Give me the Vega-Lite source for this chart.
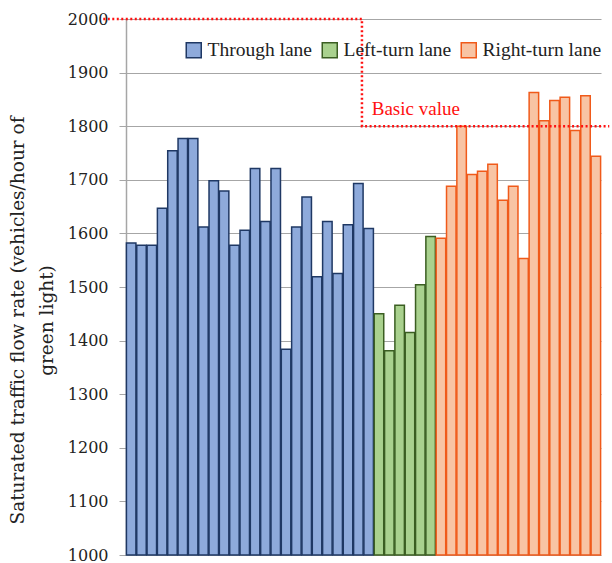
{
  "$schema": "https://vega.github.io/schema/vega-lite/v6.json",
  "width": 475,
  "height": 536,
  "autosize": {"type": "none"},
  "padding": {"left": 126, "top": 19, "right": 11, "bottom": 8},
  "background": "white",
  "config": {
    "view": {"stroke": null},
    "font": "Liberation Serif",
    "legend": {
      "orient": "none",
      "legendX": 58,
      "legendY": 21,
      "direction": "horizontal",
      "labelFont": "Liberation Serif",
      "labelFontSize": 19.5,
      "labelColor": "#222222",
      "symbolType": "square",
      "symbolSize": 225,
      "symbolStrokeWidth": 1.5,
      "labelOffset": 4,
      "columnPadding": 6,
      "labelLimit": 300
    }
  },
  "datasets": {
    "bars": [
      {"i": 1, "lane": "Through lane", "v": 1582},
      {"i": 2, "lane": "Through lane", "v": 1578},
      {"i": 3, "lane": "Through lane", "v": 1578},
      {"i": 4, "lane": "Through lane", "v": 1647},
      {"i": 5, "lane": "Through lane", "v": 1754},
      {"i": 6, "lane": "Through lane", "v": 1777},
      {"i": 7, "lane": "Through lane", "v": 1777},
      {"i": 8, "lane": "Through lane", "v": 1612},
      {"i": 9, "lane": "Through lane", "v": 1698},
      {"i": 10, "lane": "Through lane", "v": 1679},
      {"i": 11, "lane": "Through lane", "v": 1578},
      {"i": 12, "lane": "Through lane", "v": 1606},
      {"i": 13, "lane": "Through lane", "v": 1721},
      {"i": 14, "lane": "Through lane", "v": 1622},
      {"i": 15, "lane": "Through lane", "v": 1721},
      {"i": 16, "lane": "Through lane", "v": 1384},
      {"i": 17, "lane": "Through lane", "v": 1612},
      {"i": 18, "lane": "Through lane", "v": 1668},
      {"i": 19, "lane": "Through lane", "v": 1519},
      {"i": 20, "lane": "Through lane", "v": 1622},
      {"i": 21, "lane": "Through lane", "v": 1525},
      {"i": 22, "lane": "Through lane", "v": 1616},
      {"i": 23, "lane": "Through lane", "v": 1693},
      {"i": 24, "lane": "Through lane", "v": 1609},
      {"i": 25, "lane": "Left-turn lane", "v": 1450},
      {"i": 26, "lane": "Left-turn lane", "v": 1381},
      {"i": 27, "lane": "Left-turn lane", "v": 1466},
      {"i": 28, "lane": "Left-turn lane", "v": 1415},
      {"i": 29, "lane": "Left-turn lane", "v": 1504},
      {"i": 30, "lane": "Left-turn lane", "v": 1594},
      {"i": 31, "lane": "Right-turn lane", "v": 1591},
      {"i": 32, "lane": "Right-turn lane", "v": 1688},
      {"i": 33, "lane": "Right-turn lane", "v": 1800},
      {"i": 34, "lane": "Right-turn lane", "v": 1710},
      {"i": 35, "lane": "Right-turn lane", "v": 1716},
      {"i": 36, "lane": "Right-turn lane", "v": 1729},
      {"i": 37, "lane": "Right-turn lane", "v": 1662},
      {"i": 38, "lane": "Right-turn lane", "v": 1688},
      {"i": 39, "lane": "Right-turn lane", "v": 1553},
      {"i": 40, "lane": "Right-turn lane", "v": 1863},
      {"i": 41, "lane": "Right-turn lane", "v": 1810},
      {"i": 42, "lane": "Right-turn lane", "v": 1848},
      {"i": 43, "lane": "Right-turn lane", "v": 1854},
      {"i": 44, "lane": "Right-turn lane", "v": 1792},
      {"i": 45, "lane": "Right-turn lane", "v": 1857},
      {"i": 46, "lane": "Right-turn lane", "v": 1744}
    ],
    "basic": [
      {"o": 1, "px": -2.2, "py": 2000},
      {"o": 2, "px": 22.85, "py": 2000},
      {"o": 3, "px": 22.85, "py": 1800},
      {"o": 4, "px": 46.8, "py": 1800}
    ],
    "label": [
      {"px": 23.8, "py": 1833, "t": "Basic value"}
    ]
  },
  "encoding": {
    "y": {
      "field": "v",
      "type": "quantitative",
      "scale": {"domain": [1000, 2000], "nice": false, "zero": false},
      "axis": {
        "title": ["Saturated traffic flow rate (vehicles/hour of", "green light)"],
        "titleFont": "DejaVu Serif",
        "titleFontSize": 18.5,
        "titleFontWeight": "normal",
        "titleColor": "#222222",
        "titleLineHeight": 29,
        "titlePadding": 11,
        "titleY": 301,
        "labelFont": "DejaVu Serif",
        "labelFontSize": 16,
        "labelColor": "#222222",
        "labelPadding": 11,
        "tickSize": 7,
        "tickColor": "#A6A6A6",
        "domainColor": "#A6A6A6",
        "domainWidth": 1.5,
        "gridColor": "#A6A6A6",
        "gridWidth": 1.2,
        "format": "d",
        "values": [1000, 1100, 1200, 1300, 1400, 1500, 1600, 1700, 1800, 1900, 2000],
        "grid": true
      }
    }
  },
  "layer": [
    {
      "data": {"name": "bars"},
      "mark": {"type": "bar", "strokeWidth": 1.5},
      "encoding": {
        "x": {"field": "i", "type": "ordinal", "axis": null, "scale": {"paddingInner": 0.08, "paddingOuter": 0.04}},
        "y2": {"datum": 1000},
        "fill": {
          "field": "lane",
          "type": "nominal",
          "scale": {"domain": ["Through lane", "Left-turn lane", "Right-turn lane"], "range": ["#8EAADB", "#A9D18E", "#F8C4A4"]},
          "legend": {"title": null}
        },
        "stroke": {
          "field": "lane",
          "type": "nominal",
          "scale": {"domain": ["Through lane", "Left-turn lane", "Right-turn lane"], "range": ["#1F3864", "#3B5E22", "#F05A1A"]},
          "legend": {"title": null}
        }
      }
    },
    {
      "data": {"name": "basic"},
      "mark": {"type": "line", "color": "#FF1010", "strokeWidth": 2.5, "strokeDash": [2, 2.5], "clip": false},
      "encoding": {
        "x": {"field": "px", "type": "quantitative", "axis": null, "scale": {"domain": [0, 46], "nice": false, "zero": false}},
        "y": {"field": "py", "type": "quantitative"},
        "order": {"field": "o", "type": "quantitative"}
      }
    },
    {
      "data": {"name": "label"},
      "mark": {"type": "text", "color": "#FF1010", "font": "Liberation Serif", "fontSize": 19, "align": "left", "baseline": "middle"},
      "encoding": {
        "x": {"field": "px", "type": "quantitative", "axis": null, "scale": {"domain": [0, 46], "nice": false, "zero": false}},
        "y": {"field": "py", "type": "quantitative"},
        "text": {"field": "t"}
      }
    }
  ],
  "resolve": {"scale": {"x": "independent"}, "axis": {"x": "independent"}}
}
